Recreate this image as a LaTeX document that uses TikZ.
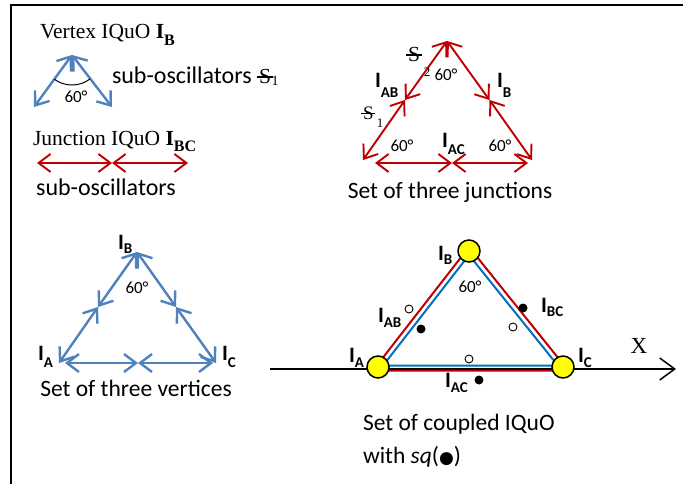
\documentclass[tikz,border=0pt]{standalone}
\usepackage{fontspec}
\setmainfont{Liberation Serif}
\newfontfamily\calib{Carlito}
\newfontfamily\dejavu{DejaVu Sans}
\usetikzlibrary{arrows.meta}
\definecolor{vblue}{RGB}{79,129,189}
\definecolor{tblue}{RGB}{0,112,192}
\definecolor{jred}{RGB}{192,0,0}
\definecolor{dotyel}{RGB}{255,255,0}
\newcommand\calsz[1]{\calib\fontsize{#1}{#1}\selectfont}
\newcommand\Lab[2]{\textbf{I}\raisebox{-#2}{\fontsize{15}{15}\selectfont\textbf{#1}}}
\newcommand\Sbar{\leavevmode\rlap{\kern-0.1em\rule[0.30em]{0.75em}{0.07em}}S}
\tikzset{
  txt/.style={inner sep=0pt, outer sep=0pt},
  cal/.style={txt, font=\calsz{23.5}},
  deg/.style={txt, font=\calsz{17}},
  lab/.style={txt, anchor=base west, font=\calsz{22}\bfseries},
  ser/.style={txt, font=\fontsize{21.5}{22}\selectfont},
  barbs/.style={{Straight Barb[length=12pt,width=18pt]}-{Straight Barb[length=12pt,width=18pt]}},
  varrow/.style={draw=vblue, line width=2.4pt, barbs},
  jarrow/.style={draw=jred, line width=1.9pt, barbs},
  opendot/.style={circle, draw=black, fill=white, line width=0.9pt, minimum size=8pt, inner sep=0pt},
  fulldot/.style={circle, fill=black, minimum size=9pt, inner sep=0pt},
  iquo/.style={circle, draw=black, fill=dotyel, line width=1.5pt, minimum size=22pt, inner sep=0pt},
}
\begin{document}
\begin{tikzpicture}[x=1pt,y=-1pt]
\useasboundingbox (0,0) rectangle (683,484);
% frame (top and left edges)
\draw[line width=1.5pt] (683,5) -- (11,5) -- (11,484);

% ---- Vertex IQuO (top left)
\node[ser, anchor=base west] (tvtx) at (40,39) {Vertex IQuO \textbf{I}\raisebox{-7pt}{\fontsize{16}{16}\selectfont\textbf{B}}};
\coordinate (v0) at (72,55);
\coordinate (v1) at (34,107);
\coordinate (v2) at (112,107);
\draw[varrow] (v0) -- (v1);
\draw[varrow] (v0) -- (v2);
\draw[line width=1pt] (v0) ++(126:30) arc[start angle=126, end angle=53, radius=30];
\node[deg] (d0) at (76,97) {60°};
\node[cal, anchor=base west, font=\calsz{24}] (so1) at (112,84) {sub-oscillators};
\node[ser, anchor=base west] (s1) at (259,84) {\Sbar};
\node[txt, font=\fontsize{14}{14}\selectfont] (s1i) at (275,81) {1};

% ---- Junction IQuO
\node[ser, anchor=base west] (tjun) at (33,146) {Junction IQuO \textbf{I}\raisebox{-6pt}{\fontsize{16}{16}\selectfont\textbf{BC}}};
\coordinate (j0) at (37,163);
\coordinate (j1) at (112,163);
\coordinate (j2) at (188,163);
\draw[jarrow] (j0) -- (j1);
\draw[jarrow] (j1) -- (j2);
\node[cal, font=\calsz{24}] (so2) at (106,187) {sub-oscillators};

% ---- Set of three junctions (top right)
\coordinate (ta) at (363,160);
\coordinate (tb) at (447,41);
\coordinate (tc) at (532,160);
\coordinate (tab) at (405,100);
\coordinate (tbc) at (489.5,100);
\coordinate (tac0) at (375,163);
\coordinate (tac) at (452,163);
\coordinate (tac1) at (528,163);
\draw[jarrow] (tb) -- (tab);
\draw[jarrow] (tab) -- (ta);
\draw[jarrow] (tb) -- (tbc);
\draw[jarrow] (tbc) -- (tc);
\draw[jarrow] (tac0) -- (tac);
\draw[jarrow] (tac) -- (tac1);
\node[ser, anchor=base west] (s2) at (408,62) {\Sbar};
\node[txt, font=\fontsize{13}{13}\selectfont] (s2i) at (427,72) {2};
\node[deg] (d1) at (446,75) {60°};
\node[lab] (lab1) at (375,88) {\Lab{AB}{10pt}};
\node[lab] (lb1) at (497,88) {\Lab{B}{10pt}};
\node[ser, anchor=base west, font=\fontsize{19}{19}\selectfont] (s3) at (363,120) {\Sbar};
\node[txt, font=\fontsize{13}{13}\selectfont] (s3i) at (380,123) {1};
\node[deg] (d2) at (402,146) {60°};
\node[lab] (lac1) at (442,148) {\Lab{AC}{7pt}};
\node[deg] (d3) at (500,146) {60°};
\node[cal] (cap1) at (450,192) {Set of three junctions};

% ---- Set of three vertices (bottom left)
\coordinate (va) at (59,363);
\coordinate (vb) at (137,252);
\coordinate (vc) at (216,363);
\coordinate (vab) at (98,307);
\coordinate (vbc) at (176,307);
\coordinate (va0) at (65,363);
\coordinate (vac) at (138,363);
\coordinate (vc0) at (213,363);
\draw[varrow] (vb) -- (vab);
\draw[varrow] (vab) -- (va);
\draw[varrow] (vb) -- (vbc);
\draw[varrow] (vbc) -- (vc);
\draw[varrow] (va0) -- (vac);
\draw[varrow] (vac) -- (vc0);
\node[lab] (lb2) at (118,249) {\Lab{B}{4pt}};
\node[deg] (d4) at (137,288) {60°};
\node[lab] (la2) at (38,360) {\Lab{A}{7pt}};
\node[lab] (lc2) at (222,360) {\Lab{C}{7pt}};
\node[cal] (cap2) at (136,388) {Set of three vertices};

% ---- Set of coupled IQuO (bottom right)
\coordinate (x0) at (270,369);
\coordinate (x1) at (676,369);
\draw[line width=1.5pt, -{Straight Barb[length=15pt,width=22pt]}] (x0) -- (x1);
\node[txt, font=\fontsize{23}{23}\selectfont] (xl) at (639,346) {X};
\coordinate (ra) at (372.9,370.5);
\coordinate (rb) at (469,247);
\coordinate (rc) at (568.2,370.5);
\coordinate (ba) at (383.1,365.5);
\coordinate (bb) at (469,255);
\coordinate (bc) at (557.8,365.5);
\draw[draw=jred, line width=2pt, line join=miter] (ra) -- (rb) -- (rc) -- cycle;
\draw[draw=tblue, line width=2pt, line join=miter] (ba) -- (bb) -- (bc) -- cycle;
\node[iquo] (cA) at (378,367) {};
\node[iquo] (cB) at (469,251) {};
\node[iquo] (cC) at (563,367) {};
\node[opendot] (o1) at (409,309) {};
\node[fulldot] (f1) at (421,329) {};
\node[fulldot] (f2) at (523,308) {};
\node[opendot] (o2) at (513,327) {};
\node[opendot] (o3) at (469,359) {};
\node[fulldot] (f3) at (479,380) {};
\node[lab] (lb3) at (438,260) {\Lab{B}{4pt}};
\node[deg] (d5) at (470,287) {60°};
\node[lab] (lab3) at (378,322) {\Lab{AB}{5pt}};
\node[lab] (lbc3) at (541,312) {\Lab{BC}{4pt}};
\node[lab] (la3) at (349,362) {\Lab{A}{5pt}};
\node[lab] (lc3) at (578,362) {\Lab{C}{5pt}};
\node[lab] (lac3) at (445,387) {\Lab{AC}{5pt}};
\node[cal, anchor=base west, font=\calsz{23.5}] (cap3) at (363,430) {Set of coupled IQuO};
\node[cal, anchor=base west, font=\calsz{23.5}] (cap4) at (363,463) {with \textit{sq}({\dejavu\fontsize{17}{17}\selectfont ●})};
\end{tikzpicture}
\end{document}
